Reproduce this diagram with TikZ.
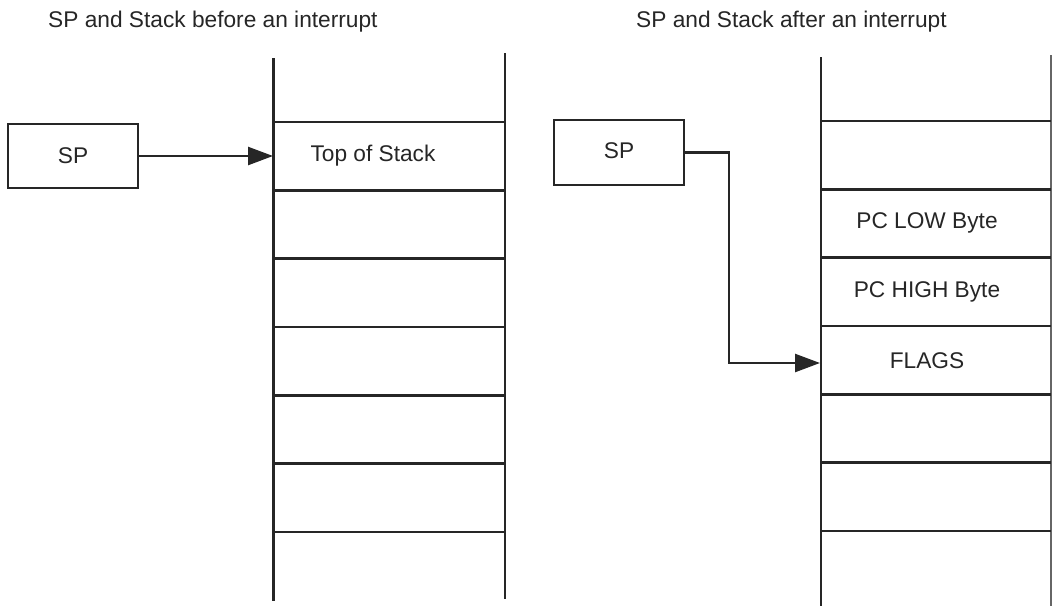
\documentclass[tikz,border=0pt]{standalone}
\usepackage{fontspec}
\setmainfont{Liberation Sans}
\usetikzlibrary{arrows.meta}
\begin{document}
\begin{tikzpicture}[x=1pt,y=-1pt,
  every node/.style={font=\fontsize{22.7}{27}\selectfont, text=black!85},
  spbox/.style={draw=black!85, line width=2.5pt, minimum width=130pt, minimum height=64pt, inner sep=0pt},
  stackline/.style={draw=black!85, line width=2.6pt},
  ptr/.style={draw=black!85, line width=2.5pt, -{Triangle[length=25pt,width=18pt]}},
  lbl/.style={inner sep=0pt, anchor=center}]
\useasboundingbox (0,0) rectangle (1052,606);
% titles
\node[lbl, anchor=west] (t1) at (48,22) {SP and Stack before an interrupt};
\node[lbl, anchor=west] (t2) at (636,22) {SP and Stack after an interrupt};
% left stack
\draw[stackline] (273.5,58) -- (273.5,601);
\draw[stackline] (505,53) -- (505,599);
\foreach \k in {0,...,6} {
  \draw[stackline] (273.5,{122+68.33*\k}) -- (505,{122+68.33*\k});
}
% right stack
\draw[stackline] (821,57) -- (821,606);
\draw[draw=black!60, line width=1.3pt] (1051,55) -- (1051,606);
\foreach \k in {0,...,6} {
  \draw[stackline] (821,{121+68.33*\k}) -- (1051,{121+68.33*\k});
}
% cell labels
\node[lbl] (tos) at (373,156) {Top of Stack};
\node[lbl] (pcl) at (927,223) {PC LOW Byte};
\node[lbl] (pch) at (927,292) {PC HIGH Byte};
\node[lbl] (flg) at (927,361) {FLAGS};
% SP boxes
\node[spbox] (sp1) at (73,156) {SP};
\node[spbox, minimum height=65pt] (sp2) at (619,152.5) {\raisebox{4pt}{SP}};
% arrow targets on stack edges
\coordinate (a1) at (273,156);
\coordinate (bend) at (729,152.5);
\coordinate (a2) at (820,363);
\draw[ptr] (sp1.east) -- (a1);
\draw[ptr] (sp2.east) -- (bend) |- (a2);
\end{tikzpicture}
\end{document}
